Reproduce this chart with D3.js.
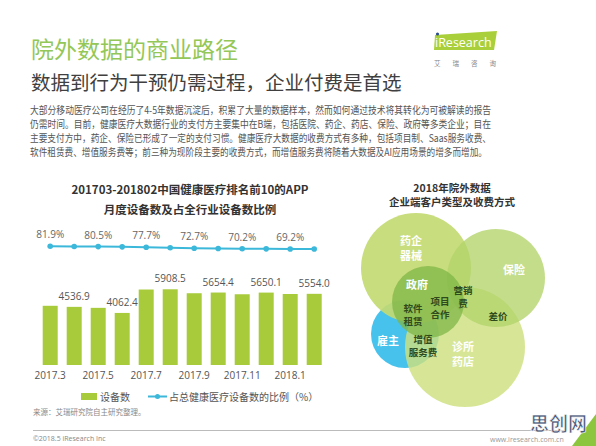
<!DOCTYPE html>
<html>
<head>
<meta charset="utf-8">
<script src="https://cdn.jsdelivr.net/npm/d3@7"></script>
<style>
  body { margin: 0; background: #fff; }
  svg { display: block; font-family: "Noto Sans CJK SC", "Open Sans", sans-serif; }
  .num { font-family: "Open Sans", "Noto Sans CJK SC", sans-serif; }
</style>
</head>
<body>
<div id="chart"></div>
<script>
// Chart data
const months = ["2017.3", "2017.4", "2017.5", "2017.6", "2017.7", "2017.8",
                "2017.9", "2017.10", "2017.11", "2017.12", "2018.1", "2018.2"];
const devices = [4620, 4536.9, 4460, 4062.4, 5890, 5908.5, 5600, 5654.4, 5520, 5650.1, 5540, 5554.0];
const shares = [81.9, 81.1, 80.5, 79.2, 77.7, 75.0, 72.7, 71.4, 70.2, 69.7, 69.2, 68.8];
const tickLabels = ["2017.3", "2017.5", "2017.7", "2017.9", "2017.11", "2018.1"];

const introLines = [
    "大部分移动医疗公司在经历了4-5年数据沉淀后，积累了大量的数据样本，然而如何通过技术将其转化为可被解读的报告",
    "仍需时间。目前，健康医疗大数据行业的支付方主要集中在B端，包括医院、药企、药店、保险、政府等多类企业；目在",
    "主要支付方中，药企、保险已形成了一定的支付习惯。健康医疗大数据的收费方式有多种，包括项目制、Saas服务收费、",
    "软件租赁费、增值服务费等；前三种为现阶段主要的收费方式，而增值服务费将随着大数据及AI应用场景的增多而增加。"
];

// Venn: client types and fee types
const clients = ["雇主", "药企\n器械", "诊所\n药店", "保险", "政府"];
const fees = ["软件\n租赁", "项目\n合作", "营销\n费", "差价", "增值\n服务费"];

const svgWidth = 596;
const svgHeight = 446;

const svg = d3.select("#chart")
    .append("svg")
    .attr("width", svgWidth)
    .attr("height", svgHeight);

// Header
svg.append("text")
    .attr("x", 31).attr("y", 58)
    .attr("font-size", 23)
    .attr("fill", "#93c757")
    .text("院外数据的商业路径");

svg.append("text")
    .attr("x", 31).attr("y", 90)
    .attr("font-size", 19.5)
    .attr("fill", "#404040")
    .text("数据到行为干预仍需过程，企业付费是首选");

// iResearch logo
const logo = svg.append("g");
logo.append("path")
    .attr("d", "M435,35 L497,31 L494,50 L434,50 Z")
    .attr("fill", "#a9cf3b");
logo.append("circle").attr("cx", 437.5).attr("cy", 34).attr("r", 1.6).attr("fill", "#2a4d8f");
logo.append("text")
    .attr("class", "num")
    .attr("x", 435).attr("y", 47)
    .attr("font-size", 12.5)
    .attr("fill", "#fff")
    .text("iResearch");
logo.append("text")
    .attr("x", 434).attr("y", 66)
    .attr("font-size", 6.5)
    .attr("fill", "#888")
    .attr("textLength", 62)
    .attr("lengthAdjust", "spacing")
    .text("艾 瑞 咨 询");

// Intro paragraph
svg.append("g")
    .selectAll("text")
    .data(introLines)
    .join("text")
    .attr("x", 30)
    .attr("y", (d, i) => 114 + i * 14)
    .attr("font-size", 10.5)
    .attr("fill", "#555")
    .attr("textLength", (d, i) => i === 3 ? 457 : 461)
    .attr("lengthAdjust", "spacingAndGlyphs")
    .text(d => d);

// Left chart title
const leftTitle = ["201703-201802中国健康医疗排名前10的APP", "月度设备数及占全行业设备数比例"];
svg.append("g")
    .selectAll("text")
    .data(leftTitle)
    .join("text")
    .attr("x", 190)
    .attr("y", (d, i) => 194 + i * 20)
    .attr("text-anchor", "middle")
    .attr("font-size", 11.5)
    .attr("font-weight", "bold")
    .attr("fill", "#333")
    .text(d => d);

// Scales
const xScale = d3.scaleBand()
    .domain(months)
    .range([38.2, 326.2])
    .paddingInner(0.375)
    .paddingOuter(0.1875);

const yBar = d3.scaleLinear()
    .domain([0, 7000])
    .range([365, 275.3]);

const yLine = d3.scaleLinear()
    .domain([0, 100])
    .range([263.5, 242.5]);

const cx = d => xScale(d) + xScale.bandwidth() / 2;

// Bars
svg.append("g")
    .selectAll("rect")
    .data(devices)
    .join("rect")
    .attr("x", (d, i) => xScale(months[i]))
    .attr("y", d => yBar(d))
    .attr("width", xScale.bandwidth())
    .attr("height", d => yBar(0) - yBar(d))
    .attr("fill", "#a7cb3b");

// Bar value labels (every other bar)
svg.append("g")
    .selectAll("text")
    .data(devices.map((v, i) => ({ v, i })).filter(d => d.i % 2 === 1))
    .join("text")
    .attr("class", "num")
    .attr("x", d => cx(months[d.i]))
    .attr("y", d => yBar(d.v) - 7)
    .attr("text-anchor", "middle")
    .attr("font-size", 10)
    .attr("fill", "#555")
    .text(d => d.v.toFixed(1));

// Share line
const line = d3.line()
    .x((d, i) => cx(months[i]))
    .y(d => yLine(d));

svg.append("path")
    .datum(shares)
    .attr("d", line)
    .attr("fill", "none")
    .attr("stroke", "#3cb8da")
    .attr("stroke-width", 2);

svg.append("g")
    .selectAll("circle")
    .data(shares)
    .join("circle")
    .attr("cx", (d, i) => cx(months[i]))
    .attr("cy", d => yLine(d))
    .attr("r", 2.8)
    .attr("fill", "#3cb8da");

svg.append("g")
    .selectAll("text")
    .data(shares.map((v, i) => ({ v, i })).filter(d => d.i % 2 === 0))
    .join("text")
    .attr("class", "num")
    .attr("x", d => cx(months[d.i]))
    .attr("y", d => yLine(d.v) - 8)
    .attr("text-anchor", "middle")
    .attr("font-size", 10)
    .attr("fill", "#666")
    .text(d => d.v.toFixed(1) + "%");

// X axis labels
const xAxis = d3.axisBottom(xScale)
    .tickValues(tickLabels)
    .tickSize(0)
    .tickPadding(7);

svg.append("g")
    .attr("transform", "translate(0,365)")
    .call(xAxis)
    .call(g => g.select(".domain").remove())
    .call(g => g.selectAll("text")
        .attr("class", "num")
        .attr("font-size", 10)
        .attr("fill", "#555"));

// Legend
const legend = svg.append("g");
legend.append("rect")
    .attr("x", 81).attr("y", 393).attr("width", 16).attr("height", 7)
    .attr("fill", "#a7cb3b");
legend.append("text")
    .attr("x", 100).attr("y", 400.5)
    .attr("font-size", 10).attr("fill", "#555")
    .text("设备数");
legend.append("line")
    .attr("x1", 148).attr("x2", 167).attr("y1", 396.5).attr("y2", 396.5)
    .attr("stroke", "#3cb8da").attr("stroke-width", 2);
legend.append("circle")
    .attr("cx", 157.5).attr("cy", 396.5).attr("r", 2.5)
    .attr("fill", "#3cb8da");
legend.append("text")
    .attr("x", 169).attr("y", 400.5)
    .attr("font-size", 10).attr("fill", "#555")
    .text("占总健康医疗设备数的比例（%）");

// Venn diagram
svg.append("g")
    .selectAll("text")
    .data(["2018年院外数据", "企业端客户类型及收费方式"])
    .join("text")
    .attr("x", 452)
    .attr("y", (d, i) => 191.5 + i * 14.5)
    .attr("text-anchor", "middle")
    .attr("font-size", 10.5)
    .attr("font-weight", "bold")
    .attr("fill", "#333")
    .text(d => d);

const circleGeom = [
    { cx: 405, cy: 334, r: 34, fill: "#47c2ec", op: 1 },
    { cx: 416, cy: 268, r: 55, fill: "#c3da72", op: 0.92 },
    { cx: 465, cy: 347, r: 60, fill: "#cde07f", op: 0.82 },
    { cx: 496, cy: 278, r: 49, fill: "#b2d36a", op: 0.78 },
    { cx: 428, cy: 302, r: 36, fill: "#7fb547", op: 0.75 }
];

svg.append("g")
    .selectAll("circle")
    .data(clients)
    .join("circle")
    .attr("cx", (d, i) => circleGeom[i].cx)
    .attr("cy", (d, i) => circleGeom[i].cy)
    .attr("r", (d, i) => circleGeom[i].r)
    .attr("fill", (d, i) => circleGeom[i].fill)
    .attr("fill-opacity", (d, i) => circleGeom[i].op);

const clientPos = [[388, 345], [411, 245], [463, 351], [514, 274], [417, 289]];
const feePos = [[413, 312], [440, 305], [463, 294], [498, 320], [423, 343]];

// one text element per line, so each line is its own label
function multiLine(g, labels, pos, size, color, gap) {
    labels.forEach((d, i) => {
        d.split("\n").forEach((p, j) => {
            g.append("text")
                .attr("x", pos[i][0])
                .attr("y", pos[i][1] + j * gap)
                .attr("text-anchor", "middle")
                .attr("font-size", size)
                .attr("font-weight", "bold")
                .attr("fill", color)
                .text(p);
        });
    });
}

multiLine(svg.append("g"), clients, clientPos, 11, "#fff", 15);
multiLine(svg.append("g"), fees, feePos, 9.5, "#2f4a1c", 13);

// Footer
svg.append("text")
    .attr("x", 33).attr("y", 415)
    .attr("font-size", 7.5).attr("fill", "#888")
    .text("来源：艾瑞研究院自主研究整理。");

svg.append("line")
    .attr("x1", 33).attr("x2", 565).attr("y1", 430.5).attr("y2", 430.5)
    .attr("stroke", "#bbb").attr("stroke-width", 1);

svg.append("text")
    .attr("class", "num")
    .attr("x", 33).attr("y", 441)
    .attr("font-size", 7).attr("fill", "#888")
    .text("©2018.5 iResearch Inc");

svg.append("text")
    .attr("class", "num")
    .attr("x", 490).attr("y", 442)
    .attr("font-size", 7).attr("fill", "#999")
    .text("www.iresearch.com.cn");

// Watermark
svg.append("path")
    .attr("d", "M596,414 L596,446 L572,446 Z")
    .attr("fill", "#8cc63f");
svg.append("text")
    .attr("x", 530).attr("y", 431)
    .attr("font-size", 19)
    .attr("font-weight", "bold")
    .attr("fill", "#4a5878")
    .attr("stroke", "#fff")
    .attr("stroke-width", 0.6)
    .text("思创网");
</script>
</body>
</html>
